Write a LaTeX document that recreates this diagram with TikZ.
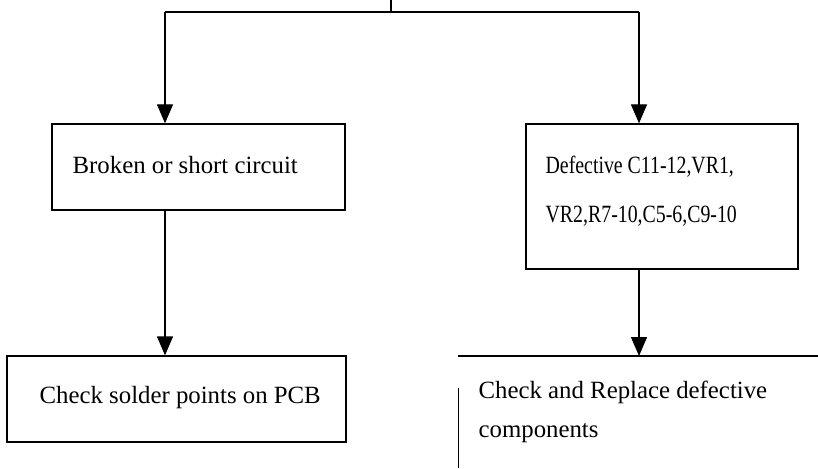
\documentclass[tikz,border=0pt]{standalone}
\usepackage{fontspec}
\setmainfont{Liberation Serif}
\newfontfamily\narrowfont[FakeStretch=0.8]{Liberation Serif}
\usetikzlibrary{arrows.meta}
\begin{document}
\begin{tikzpicture}[x=1pt,y=-1pt,
  line width=1.3pt,
  boxnode/.style={draw,rectangle,inner sep=0pt},
  txt/.style={anchor=base west,inner sep=0pt,font=\fontsize{24.8}{30}\selectfont},
  ntxt/.style={anchor=base west,inner sep=0pt,font=\narrowfont\fontsize{24.8}{30}\selectfont},
  arr/.style={-{Triangle[length=19pt,width=16pt]}}]
\useasboundingbox (0,0) rectangle (818,468);
% boxes
\node[boxnode,minimum width=293pt,minimum height=86pt] (b1) at (198.5,167) {};
\node[boxnode,minimum width=272pt,minimum height=145pt] (b2) at (662,196.5) {};
\node[boxnode,minimum width=339pt,minimum height=86pt] (b3) at (176.5,399) {};
% open box bottom right
\coordinate (b4tl) at (458,356);
\coordinate (b4tr) at (818,356);
\coordinate (b4lt) at (458,388);
\coordinate (b4lb) at (458,468);
\coordinate (b4in) at (639,356);
\draw (b4tl) -- (b4tr);
\draw[line width=0.8pt] (b4lt) -- (b4lb);
% texts
\node[txt] (t1) at (72,173) {Broken or short circuit};
\node[ntxt] (t2a) at (545,173) {Defective C11-12,VR1,};
\node[ntxt] (t2b) at (545,222) {VR2,R7-10,C5-6,C9-10};
\node[txt] (t3) at (39,403) {Check solder points on PCB};
\node[txt] (t4a) at (478,398) {Check and Replace defective};
\node[txt] (t4b) at (478,437) {components};
% top connector
\coordinate (top) at (391,0);
\coordinate (split) at (391,12);
\coordinate (sl) at (165,12);
\coordinate (sr) at (639,12);
\draw (top) -- (split);
\draw (sl) -- (sr);
\draw[arr] (sl) -- (b1.north -| sl);
\draw[arr] (sr) -- (b2.north -| sr);
\draw[arr] (b1.south -| sl) -- (b3.north -| sl);
\draw[arr] (b2.south -| sr) -- (b4in);
\end{tikzpicture}
\end{document}
